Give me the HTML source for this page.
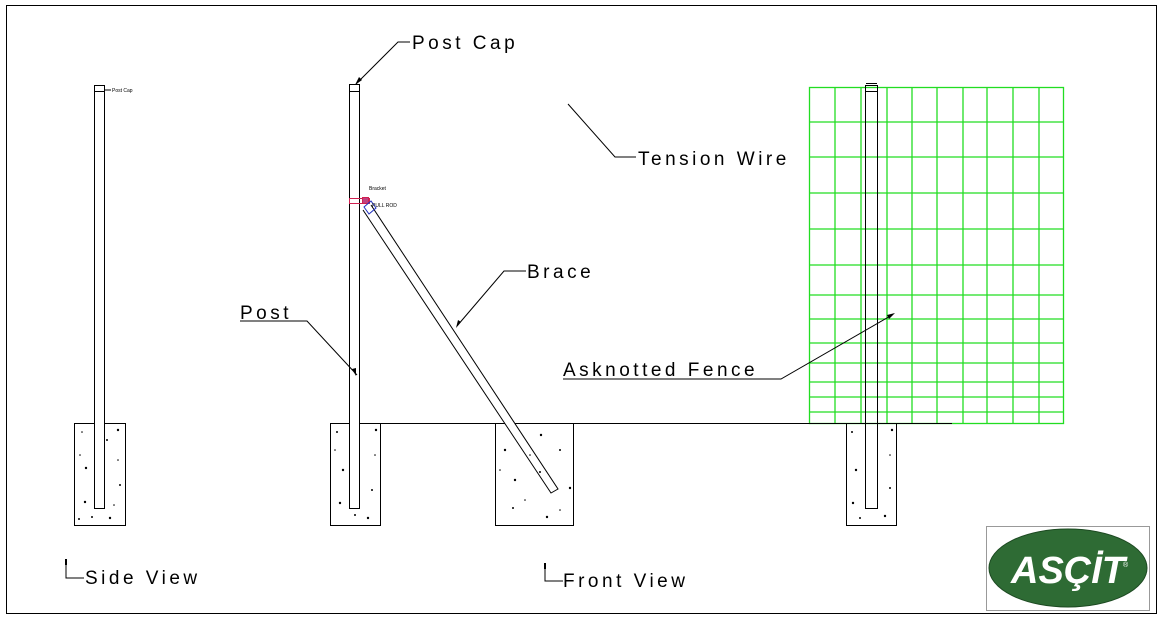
<!DOCTYPE html>
<html><head><meta charset="utf-8"><style>
html,body{margin:0;padding:0;background:#fff;}
svg{display:block}
text{font-family:"Liberation Sans",sans-serif;font-size:19px;fill:#000;letter-spacing:3.5px;}
</style></head><body>
<svg width="1164" height="622" viewBox="0 0 1164 622" xmlns="http://www.w3.org/2000/svg">
<rect x="0" y="0" width="1164" height="622" fill="#fff"/>
<rect x="6.5" y="5.5" width="1150" height="608" fill="none" stroke="#000" stroke-width="1"/>
<line x1="640" y1="613.5" x2="765" y2="613.5" stroke="#000"/>

<g stroke="#22dd22" stroke-width="1.3" fill="none">
<rect x="809.5" y="87.5" width="254" height="336"/>
<path d="M835 87V424M861 87V424M887 87V424M912 87V424M937 87V424M963 87V424M987 87V424M1013 87V424M1039 87V424"/>
<path d="M809 122H1064M809 157H1064M809 193H1064M809 229H1064M809 265H1064M809 295H1064M809 319H1064M809 343H1064M809 363H1064M809 382H1064M809 397H1064M809 412H1064"/>
</g>

<g stroke="#000" stroke-width="1" fill="none">
<line x1="330" y1="423.5" x2="952" y2="423.5"/>
<rect x="74.5" y="423.5" width="51" height="102"/>
<rect x="330.5" y="423.5" width="50" height="102"/>
<rect x="495.5" y="423.5" width="78" height="102"/>
<rect x="846.5" y="423.5" width="50" height="102"/>
<rect x="94.5" y="85.5" width="10" height="423" fill="#fff"/>
<line x1="94" y1="91.5" x2="105" y2="91.5"/>
<rect x="349.5" y="84.5" width="10" height="424" fill="#fff"/>
<line x1="349" y1="91.5" x2="360" y2="91.5"/>
<rect x="865.5" y="85.5" width="12" height="423"/>
<line x1="865" y1="91.5" x2="878" y2="91.5"/>
<line x1="866" y1="83.5" x2="877" y2="83.5"/>
<path d="M363 210 L551 493 L558 489 L371 205" fill="#fff"/>
<path d="M410 42 H398 L356 84"/>
<path d="M636 157 H615 L568 104"/>
<path d="M526 271 H504 L457 326"/>
<path d="M240 321 H307 L357 375"/>
<path d="M563 379 H781 L892 315"/>
<path d="M84 578 H66 V562"/>
<path d="M563 581 H545 V566"/>
<line x1="105" y1="90" x2="111" y2="90"/>
</g>
<g fill="#000">
<polygon points="355,85 362,80 359,77"/>
<polygon points="356,376 352,369 356,368"/>
<polygon points="456,328 458,320 461,322"/>
<polygon points="895,313 887,315 889,319"/>
<rect x="65" y="559" width="2" height="6"/>
<rect x="544" y="563" width="2" height="6"/>
</g>
<g fill="none" stroke-width="1">
<rect x="349.5" y="198.5" width="20" height="5" stroke="#d02050"/>
<rect x="362.5" y="197.5" width="6" height="6" stroke="#d02050" fill="#c04080"/>
<polygon points="364,207 371,201 376,208 369,214" stroke="#2030c0"/>
</g>
<text x="369" y="190" style="font-size:5px;letter-spacing:0">Bracket</text>
<text x="372" y="207" style="font-size:5px;letter-spacing:0">PULL ROD</text>
<text x="112" y="92" style="font-size:5px;letter-spacing:0">Post Cap</text>
<g fill="#000">
<circle cx="82" cy="432" r=".8"/><circle cx="118" cy="430" r="1.2"/><circle cx="107" cy="440" r="1"/><circle cx="86" cy="468" r="1.2"/><circle cx="120" cy="485" r="1"/><circle cx="85" cy="502" r="1.2"/><circle cx="92" cy="517" r="1"/><circle cx="110" cy="518" r="1.2"/><circle cx="79" cy="519" r="1"/><circle cx="118" cy="460" r=".8"/><circle cx="80" cy="455" r=".8"/><circle cx="114" cy="505" r=".8"/>
<circle cx="337" cy="432" r="1"/><circle cx="376" cy="430" r="1.2"/><circle cx="343" cy="470" r="1.2"/><circle cx="372" cy="490" r="1"/><circle cx="340" cy="503" r="1.2"/><circle cx="355" cy="515" r="1"/><circle cx="368" cy="518" r="1.2"/><circle cx="375" cy="455" r=".8"/><circle cx="335" cy="450" r=".8"/>
<circle cx="541" cy="435" r="1.2"/><circle cx="505" cy="450" r="1.2"/><circle cx="560" cy="450" r="1"/><circle cx="515" cy="480" r="1.2"/><circle cx="540" cy="472" r="1"/><circle cx="570" cy="488" r="1.2"/><circle cx="513" cy="508" r="1"/><circle cx="547" cy="517" r="1.2"/><circle cx="530" cy="455" r=".8"/><circle cx="500" cy="470" r=".8"/><circle cx="525" cy="500" r=".8"/><circle cx="560" cy="510" r=".8"/>
<circle cx="852" cy="432" r="1"/><circle cx="892" cy="430" r="1.2"/><circle cx="856" cy="470" r="1.2"/><circle cx="890" cy="488" r="1"/><circle cx="853" cy="503" r="1.2"/><circle cx="860" cy="518" r="1"/><circle cx="885" cy="516" r="1.2"/><circle cx="890" cy="455" r=".8"/>
</g>
<text x="412" y="49">Post Cap</text>
<text x="638" y="165">Tension Wire</text>
<text x="527" y="278">Brace</text>
<text x="240" y="319">Post</text>
<text x="563" y="376">Asknotted Fence</text>
<text x="85" y="584">Side View</text>
<text x="563" y="587">Front View</text>
<rect x="986.5" y="526.5" width="163" height="84" fill="#fff" stroke="#999"/>
<ellipse cx="1068" cy="568" rx="79" ry="39" fill="#2e6b34" stroke="#1d4a22"/>
<text x="1068" y="583" text-anchor="middle" style="font-size:38px;font-weight:bold;font-style:italic;fill:#fff;letter-spacing:0">AS&#199;&#304;T</text>
<text x="1123" y="567" style="font-size:7px;fill:#fff;letter-spacing:0">&#174;</text>
</svg>
</body></html>
